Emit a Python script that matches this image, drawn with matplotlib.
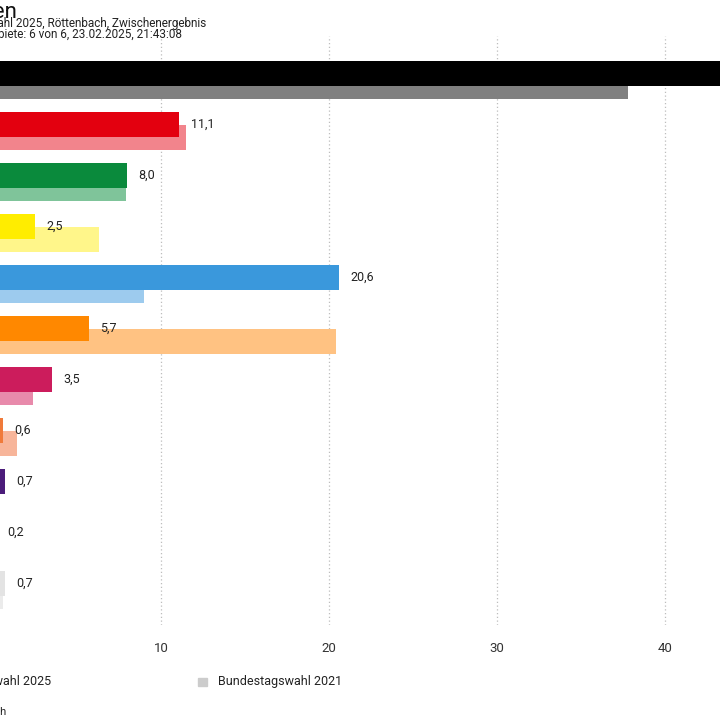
import matplotlib
matplotlib.use("Agg")
import matplotlib.pyplot as plt
from matplotlib.patches import Rectangle

plt.rcParams['font.family'] = ['Liberation Sans Narrow', 'Roboto', 'DejaVu Sans']

parties = ["CSU", "SPD", "GRÜNE", "FDP", "AfD", "FREIE WÄHLER", "Die Linke", "ÖDP", "BSW", "Volt", "Sonstige"]
votes_2025 = [46.4, 11.1, 8.0, 2.5, 20.6, 5.7, 3.5, 0.6, 0.7, 0.2, 0.7]
votes_2021 = [37.8, 11.5, 7.9, 6.3, 9.0, 20.4, 2.4, 1.4, 0.0, 0.0, 0.6]
colors_2025 = ["#000000", "#E3000F", "#0A8A3C", "#FFED00", "#3A98DC", "#FF8800",
               "#CC1C5C", "#F07A3A", "#4B1C7A", "#FFFFFF", "#E3E3E3"]
colors_2021 = ["#808080", "#F2848C", "#7FC49A", "#FFF68A", "#9DCBEE", "#FFC282",
               "#E88AAB", "#F7B59A", "#A58DBD", "#FFFFFF", "#EBEBEB"]
x_ticks = [10, 20, 30, 40]

W = 720.0
fig = plt.figure(figsize=(7.2, 7.2), dpi=100)
# the chart is cut off on the left, so the axes start just outside the canvas
ax = fig.add_axes([-7 / W, (720 - 625) / W, 840 / W, (625 - 36) / W])
ax.set_xlim(0, 50)
ax.set_ylim(10.686, -0.863)

rows = list(range(len(parties)))
off = 6.5 / 51
h = 25 / 51
ax.barh([r + off for r in rows], votes_2021, height=h, color=colors_2021, zorder=2)
ax.barh([r - off for r in rows], votes_2025, height=h, color=colors_2025, zorder=3)

for r, v in zip(rows, votes_2025):
    ax.annotate(f"{v:.1f}".replace(".", ","), xy=(v, r - off), xytext=(8, 0),
                textcoords="offset points", va="center", ha="left",
                fontsize=9, color="#222222")

for t in x_ticks:
    ax.axvline(t, color="#bdbdbd", lw=0.9, ls=(0, (1, 2)), zorder=1)

ax.set_xticks(x_ticks)
ax.set_xticklabels([str(t) for t in x_ticks], fontsize=9.5, color="#333333")
ax.tick_params(axis="x", length=0, pad=12)
ax.set_yticks([])
for s in ax.spines.values():
    s.set_visible(False)

# header, right-aligned to where the visible text ends
fig.text(17 / W, 1 - 18 / W, "Zweitstimmen", ha="right", va="baseline",
         fontsize=16, color="#111111")
fig.text(206 / W, 1 - 27 / W, "Bundestagswahl 2025, Röttenbach, Zwischenergebnis",
         ha="right", va="baseline", fontsize=8.5, color="#222222")
fig.text(182 / W, 1 - 38 / W, "Ausgezählte Gebiete: 6 von 6, 23.02.2025, 21:43:08",
         ha="right", va="baseline", fontsize=8.5, color="#222222")

# legend
fig.text(51 / W, 1 - 682 / W, "Bundestagswahl 2025", ha="right", va="center",
         fontsize=9, color="#222222")
fig.patches.append(Rectangle((198 / W, 1 - 686 / W), 9 / W, 8 / W,
                             transform=fig.transFigure, color="#cccccc"))
fig.text(218 / W, 1 - 682 / W, "Bundestagswahl 2021", ha="left", va="center",
         fontsize=9, color="#222222")

fig.text(6 / W, 1 - 712 / W, "Quelle: Gemeinde Röttenbach", ha="right", va="center",
         fontsize=8, color="#222222")

fig.savefig("out.png", dpi=100)
